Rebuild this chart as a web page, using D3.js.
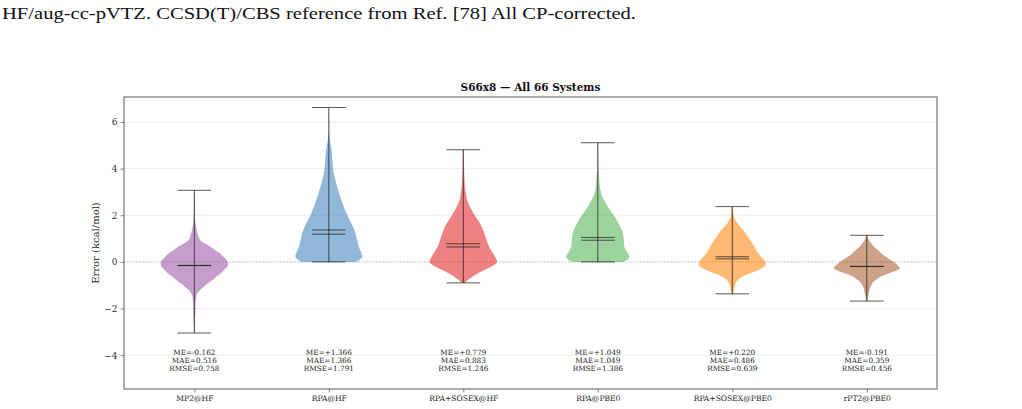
<!DOCTYPE html>
<html>
<head>
<meta charset="utf-8">
<script src="https://cdn.jsdelivr.net/npm/d3@7"></script>
<style>
  html, body { margin: 0; padding: 0; background: #fff; }
  svg { display: block; }
</style>
</head>
<body>
<svg id="chart" width="1022" height="409"></svg>
<script>
// ---------------- data ----------------
const headerText = "HF/aug-cc-pVTZ. CCSD(T)/CBS reference from Ref. [78] All CP-corrected.";
const chartTitle = "S66x8 \u2014 All 66 Systems";
const yLabel = "Error (kcal/mol)";
const methods = ["MP2@HF", "RPA@HF", "RPA+SOSEX@HF", "RPA@PBE0", "RPA+SOSEX@PBE0", "rPT2@PBE0"];
const colors = ["#984ea3", "#377eb8", "#e41a1c", "#4daf4a", "#ff7f00", "#a65628"];
const meanErr = [-0.162, 1.366, 0.779, 1.049, 0.220, -0.191];
const maeErr = [0.516, 1.366, 0.883, 1.049, 0.486, 0.359];
const rmseErr = [0.758, 1.791, 1.246, 1.386, 0.639, 0.456];
const medianErr = [-0.15, 1.19, 0.64, 0.93, 0.13, -0.20];
const minErr = [-3.05, 0.0, -0.90, 0.0, -1.37, -1.68];
const maxErr = [3.07, 6.62, 4.81, 5.11, 2.37, 1.14];
const yTicks = [-4, -2, 0, 2, 4, 6];

// violin outlines: [error value, relative half-width]
const profileMP2HF = [[3.07,0.01],[2.5,0.015],[2.0,0.02],[1.6,0.04],[1.37,0.07],[1.15,0.11],[0.94,0.17],[0.8,0.3],[0.66,0.47],[0.5,0.62],[0.37,0.76],[0.2,0.88],[0.09,0.96],[-0.14,1.0],[-0.34,0.89],[-0.5,0.78],[-0.63,0.66],[-0.78,0.54],[-0.91,0.42],[-1.05,0.29],[-1.2,0.17],[-1.41,0.07],[-1.7,0.04],[-2.2,0.03],[-2.6,0.02],[-3.05,0.01]];
const profileRPAHF = [[6.62,0.005],[6.0,0.008],[5.5,0.015],[5.22,0.03],[4.9,0.07],[4.51,0.1],[3.94,0.13],[3.37,0.22],[2.66,0.37],[2.09,0.52],[1.51,0.72],[1.2,0.8],[0.94,0.84],[0.66,0.89],[0.37,0.97],[0.23,1.0],[0.09,0.92],[0.0,0.8]];
const profileSOSEXHF = [[4.81,0.01],[4.2,0.02],[3.37,0.04],[3.0,0.07],[2.66,0.11],[2.35,0.2],[2.09,0.3],[1.8,0.43],[1.51,0.55],[1.2,0.63],[0.94,0.69],[0.7,0.75],[0.51,0.82],[0.23,0.94],[0.0,1.0],[-0.2,0.84],[-0.41,0.53],[-0.63,0.28],[-0.8,0.12],[-0.9,0.05]];
const profileRPAPBE0 = [[5.11,0.01],[4.5,0.015],[4.08,0.02],[3.6,0.04],[3.23,0.06],[2.9,0.11],[2.66,0.18],[2.35,0.3],[2.09,0.43],[1.8,0.56],[1.51,0.67],[1.25,0.74],[1.0,0.77],[0.66,0.79],[0.45,0.86],[0.23,0.94],[0.09,0.88],[0.0,0.75]];
const profileSOSEXPBE0 = [[2.37,0.02],[2.09,0.03],[1.85,0.07],[1.66,0.15],[1.45,0.27],[1.23,0.4],[1.0,0.5],[0.8,0.6],[0.6,0.68],[0.44,0.74],[0.25,0.84],[0.09,0.94],[-0.13,1.0],[-0.34,0.79],[-0.45,0.6],[-0.56,0.4],[-0.66,0.27],[-0.77,0.17],[-0.9,0.1],[-1.06,0.07],[-1.25,0.04],[-1.37,0.03]];
const profileRPT2PBE0 = [[1.14,0.02],[1.0,0.04],[0.85,0.1],[0.66,0.21],[0.48,0.35],[0.3,0.49],[0.12,0.67],[-0.06,0.85],[-0.27,0.98],[-0.41,0.8],[-0.52,0.6],[-0.63,0.42],[-0.77,0.28],[-0.91,0.17],[-1.1,0.1],[-1.27,0.07],[-1.55,0.03],[-1.68,0.02]];
const profiles = [profileMP2HF, profileRPAHF, profileSOSEXHF, profileRPAPBE0, profileSOSEXPBE0, profileRPT2PBE0];

// ---------------- layout ----------------
const svg = d3.select("#chart");
const plot = { left: 124, right: 937, top: 97, bottom: 389 };
const serif = "'DejaVu Serif', serif";

const x = d3.scaleLinear().domain([0.477, 6.522]).range([plot.left, plot.right]);
const y = d3.scaleLinear().domain([-5.45, 7.07]).range([plot.bottom, plot.top]);
const violinHalf = x(0.25) - x(0);
const capHalf = x(0.125) - x(0);

// header text (caption fragment above the figure)
svg.append("text")
  .attr("x", 2).attr("y", 19)
  .attr("font-family", "'Liberation Serif', 'Times New Roman', serif")
  .attr("font-size", 17.5)
  .attr("textLength", 634)
  .attr("lengthAdjust", "spacingAndGlyphs")
  .attr("fill", "#111")
  .text(headerText);

// grid
svg.append("g").selectAll("line")
  .data(yTicks.filter(t => t !== 0))
  .join("line")
  .attr("x1", plot.left).attr("x2", plot.right)
  .attr("y1", d => y(d)).attr("y2", d => y(d))
  .attr("stroke", "#e6e6e6").attr("stroke-width", 0.8);

// zero line
svg.append("line")
  .attr("x1", plot.left).attr("x2", plot.right)
  .attr("y1", y(0)).attr("y2", y(0))
  .attr("stroke", "#999").attr("stroke-width", 0.8)
  .attr("stroke-dasharray", "1.5,1.5");

// violins
const area = d3.area()
  .y(d => y(d[0]))
  .curve(d3.curveCatmullRom.alpha(0.5));

methods.forEach((m, i) => {
  const cx = x(i + 1);
  const g = svg.append("g");
  g.append("path")
    .datum(profiles[i])
    .attr("d", area.x0(d => cx - d[1] * violinHalf).x1(d => cx + d[1] * violinHalf))
    .attr("fill", colors[i])
    .attr("fill-opacity", 0.55)
    .attr("stroke", "none");

  const lineColor = "#1a1a1a";
  const lo = 0.72;
  // vertical bar
  g.append("line")
    .attr("x1", cx).attr("x2", cx)
    .attr("y1", y(maxErr[i])).attr("y2", y(minErr[i]))
    .attr("stroke", lineColor).attr("stroke-opacity", lo).attr("stroke-width", 1);
  // caps, mean, median
  [maxErr[i], minErr[i], meanErr[i], medianErr[i]].forEach(v => {
    g.append("line")
      .attr("x1", cx - capHalf).attr("x2", cx + capHalf)
      .attr("y1", y(v)).attr("y2", y(v))
      .attr("stroke", lineColor).attr("stroke-opacity", lo).attr("stroke-width", 1);
  });

  // stats text
  const fmtME = d3.format("+.3f");
  const fmt = d3.format(".3f");
  const lines = [
    "ME=" + (meanErr[i] < 0 ? "-" + fmt(-meanErr[i]) : fmtME(meanErr[i])),
    "MAE=" + fmt(maeErr[i]),
    "RMSE=" + fmt(rmseErr[i])
  ];
  lines.forEach((t, k) => {
    g.append("text")
      .attr("x", cx).attr("y", 355.2 + k * 7.9)
      .attr("text-anchor", "middle")
      .attr("font-family", serif)
      .attr("font-size", 7.3)
      .attr("fill", "#222")
      .text(t);
  });
});

// frame
svg.append("rect")
  .attr("x", plot.left).attr("y", plot.top)
  .attr("width", plot.right - plot.left).attr("height", plot.bottom - plot.top)
  .attr("fill", "none").attr("stroke", "#666").attr("stroke-width", 1.1);

// y axis
const yAxis = d3.axisLeft(y).tickValues(yTicks).tickSize(3.5).tickPadding(3)
  .tickFormat(d => d < 0 ? "\u2212" + Math.abs(d) : String(d));
const ya = svg.append("g").attr("transform", `translate(${plot.left},0)`).call(yAxis);
ya.select(".domain").remove();
ya.selectAll(".tick line").attr("stroke", "#666").attr("stroke-width", 0.8);
ya.selectAll(".tick text").attr("font-family", serif).attr("font-size", 9).attr("fill", "#333");

// x axis
const xAxis = d3.axisBottom(x).tickValues(d3.range(1, methods.length + 1)).tickSize(3.5).tickPadding(3)
  .tickFormat(d => methods[d - 1]);
const xa = svg.append("g").attr("transform", `translate(0,${plot.bottom})`).call(xAxis);
xa.select(".domain").remove();
xa.selectAll(".tick line").attr("stroke", "#666").attr("stroke-width", 0.8);
xa.selectAll(".tick text").attr("font-family", serif).attr("font-size", 7.6).attr("fill", "#222");

// y label
svg.append("text")
  .attr("transform", `translate(99,${(plot.top + plot.bottom) / 2}) rotate(-90)`)
  .attr("text-anchor", "middle")
  .attr("font-family", serif)
  .attr("font-size", 10)
  .attr("fill", "#222")
  .text(yLabel);

// title
svg.append("text")
  .attr("x", (plot.left + plot.right) / 2).attr("y", 91)
  .attr("text-anchor", "middle")
  .attr("font-family", serif)
  .attr("font-weight", "bold")
  .attr("font-size", 10.5)
  .attr("fill", "#111")
  .text(chartTitle);
</script>
</body>
</html>
